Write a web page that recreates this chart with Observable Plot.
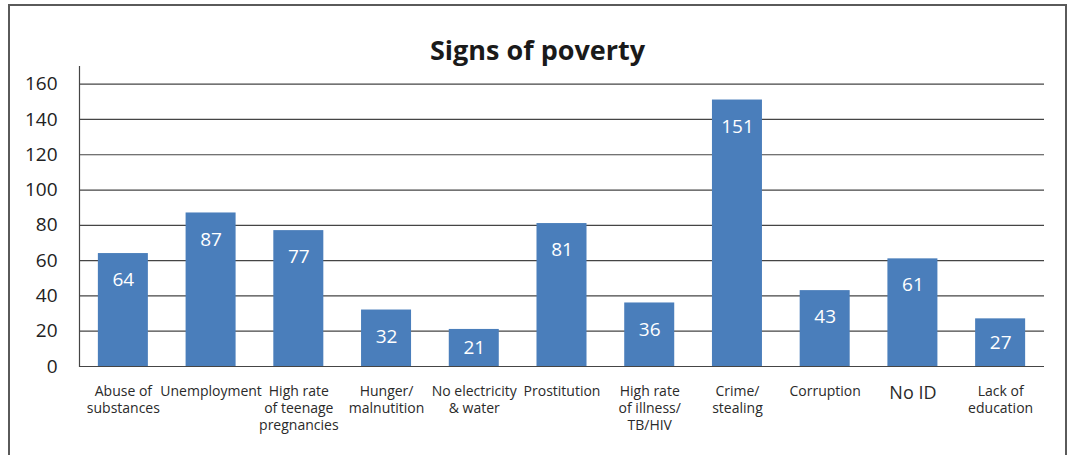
<!DOCTYPE html>
<html>
<head>
<meta charset="utf-8">
<script src="https://cdn.jsdelivr.net/npm/d3@7"></script>
<script src="https://cdn.jsdelivr.net/npm/@observablehq/plot@0.6"></script>
<style>
  html, body { margin: 0; padding: 0; background: #fff; overflow: hidden; }
  #frame { position: absolute; left: 8px; top: 4px; width: 1055px; height: 480px;
           border: 2px solid #5a5a5a; background: #fff; }
  #title { height: 60px; text-align: center; font-family: "Open Sans", sans-serif;
           font-weight: bold; font-size: 27px; color: #1a1a1a; line-height: 1; padding-top: 0; box-sizing: border-box; }
  #title span { position: relative; top: 30px; }
  #chart svg { display: block; }
</style>
</head>
<body>
<div id="frame">
  <div id="title"><span>Signs of poverty</span></div>
  <div id="chart"></div>
</div>
<script>
const categories = [
  "Abuse of\nsubstances", "Unemployment", "High rate\nof teenage\npregnancies",
  "Hunger/\nmalnutition", "No electricity\n& water", "Prostitution",
  "High rate\nof illness/\nTB/HIV", "Crime/\nstealing", "Corruption", "No ID",
  "Lack of\neducation"
];
const values = [64, 87, 77, 32, 21, 81, 36, 151, 43, 61, 27];
const yTicks = [0, 20, 40, 60, 80, 100, 120, 140, 160];
const labelSizes = [14, 14, 14, 14, 14, 14, 14, 14, 14, 18, 14];

const data = categories.map((c, i) => ({cat: c, value: values[i], size: labelSizes[i]}));

const chart = Plot.plot({
  width: 1055,
  height: 389,
  marginTop: 0,
  marginBottom: 89,
  marginLeft: 69,
  marginRight: 21,
  style: {fontFamily: "Open Sans, sans-serif", background: "transparent"},
  x: {domain: categories, paddingInner: 0.43, paddingOuter: 0.215, round: false, axis: null},
  y: {domain: [0, 170], axis: null},
  marks: [
    Plot.ruleY(yTicks, {stroke: "#454545", strokeWidth: 1.2}),
    Plot.frame({anchor: "left", stroke: "#454545", strokeWidth: 1.2}),
    Plot.axisY(yTicks, {tickSize: 0, tickPadding: 22, fontSize: 19, fill: "#222", label: null}),
    Plot.barY(data, {x: "cat", y: "value", fill: "#4a7ebb"}),
    Plot.text(data, {x: "cat", y: d => Math.max(d.value / 2, d.value - 15), text: d => String(d.value),
      fill: "white", fontSize: 19}),
    Plot.text(data, {x: "cat", y: 0, text: "cat", fontSize: "size", lineAnchor: "top", dy: 17,
      fill: "#2a2a2a", lineHeight: 1.22})
  ]
});
document.getElementById("chart").appendChild(chart);
</script>
</body>
</html>
